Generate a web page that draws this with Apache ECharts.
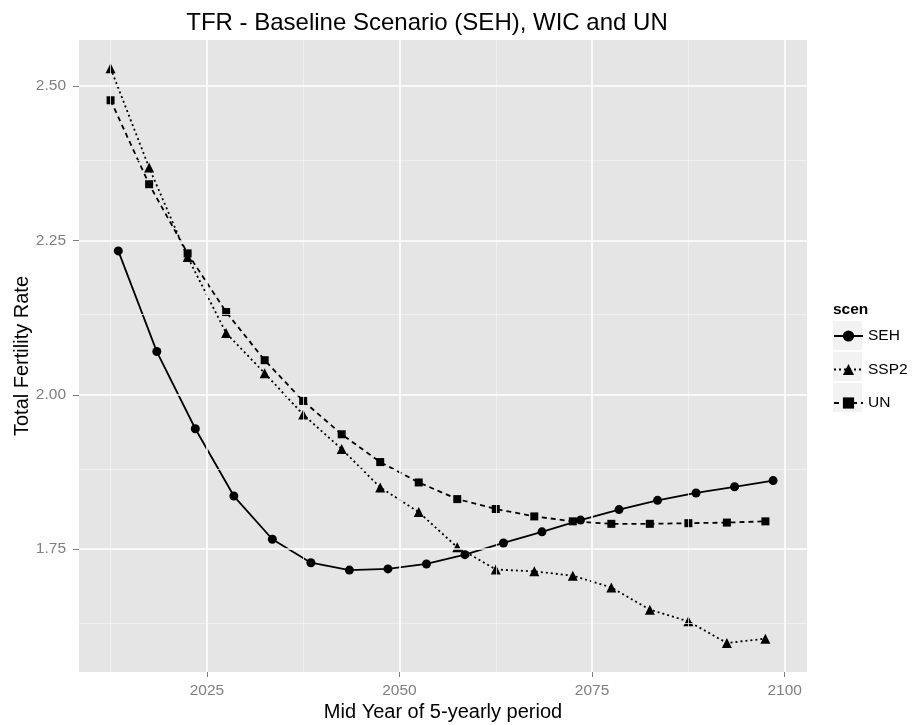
<!DOCTYPE html>
<html>
<head>
<meta charset="utf-8">
<script src="https://cdn.jsdelivr.net/npm/echarts@6/dist/echarts.min.js"></script>
<style>
  html, body { margin: 0; padding: 0; background: #fff; }
  #chart { width: 912px; height: 725px; }
</style>
</head>
<body>
<div id="chart"></div>
<script>
// TFR 数据
var sehYears = [2013.5, 2018.5, 2023.5, 2028.5, 2033.5, 2038.5, 2043.5, 2048.5, 2053.5,
                2058.5, 2063.5, 2068.5, 2073.5, 2078.5, 2083.5, 2088.5, 2093.5, 2098.5];
var wicYears = [2012.5, 2017.5, 2022.5, 2027.5, 2032.5, 2037.5, 2042.5, 2047.5, 2052.5,
                2057.5, 2062.5, 2067.5, 2072.5, 2077.5, 2082.5, 2087.5, 2092.5, 2097.5];
var sehValues = [2.233, 2.070, 1.945, 1.836, 1.766, 1.728, 1.716, 1.718, 1.726,
                 1.741, 1.760, 1.778, 1.797, 1.814, 1.829, 1.841, 1.851, 1.861];
var ssp2Values = [2.529, 2.368, 2.223, 2.100, 2.035, 1.968, 1.912, 1.850, 1.810,
                  1.753, 1.717, 1.714, 1.707, 1.688, 1.652, 1.633, 1.598, 1.605];
var unValues = [2.477, 2.341, 2.229, 2.134, 2.056, 1.990, 1.936, 1.891, 1.858,
                1.831, 1.815, 1.803, 1.795, 1.791, 1.791, 1.792, 1.793, 1.795];

var xTicks = [2025, 2050, 2075, 2100];
var xMinor = [2012.5, 2037.5, 2062.5, 2087.5];
var yTicks = [1.75, 2.00, 2.25, 2.50];
var yMinor = [1.625, 1.875, 2.125, 2.375];

function pairs(xs, ys){
    var out = [];
    for (var i = 0; i < xs.length; i ++)
        out.push([xs[i], ys[i]]);
    return out;
}

function gridLines(xs, ys, w){
    var res = [];
    xs.forEach(function(v){ res.push({xAxis: v, lineStyle: {width: w}}); });
    ys.forEach(function(v){ res.push({yAxis: v, lineStyle: {width: w}}); });
    return res;
}

var tickLabel = {color: '#7f7f7f', fontSize: 15.5, fontFamily: 'Liberation Sans'};

var option = {
    animation: false,
    backgroundColor: '#fff',
    title: [
        {
            text: 'TFR - Baseline Scenario (SEH), WIC and UN',
            left: 422, top: 6, textAlign: 'center',
            textStyle: {fontFamily: 'Liberation Sans', fontSize: 24, fontWeight: 'normal', color: '#000'}
        },
        {
            text: 'scen', left: 828, top: 297, padding: 5,
            textStyle: {fontFamily: 'Liberation Sans', fontSize: 15.5, fontWeight: 'bold', color: '#000'}
        }
    ],
    grid: {
        left: 79, right: 105, top: 40, bottom: 53,
        outerBoundsMode: 'none', containLabel: false,
        show: true, backgroundColor: '#e5e5e5', borderWidth: 0
    },
    xAxis: {
        type: 'value',
        min: 2008.4, max: 2102.9,
        name: 'Mid Year of 5-yearly period',
        nameLocation: 'middle', nameGap: 30, nameMoveOverlap: false,
        nameTextStyle: {fontFamily: 'Liberation Sans', fontSize: 20, color: '#000'},
        axisLine: {show: false},
        splitLine: {show: false},
        axisTick: {show: true, customValues: xTicks, length: 5, lineStyle: {color: '#7f7f7f'}},
        axisLabel: Object.assign({
            customValues: xTicks, margin: 11,
            formatter: function(v){ return String(v); }
        }, tickLabel)
    },
    yAxis: {
        type: 'value',
        min: 1.551, max: 2.5746,
        name: 'Total Fertility Rate',
        nameLocation: 'middle', nameGap: 47, nameMoveOverlap: false,
        nameTextStyle: {fontFamily: 'Liberation Sans', fontSize: 20, color: '#000'},
        axisLine: {show: false},
        splitLine: {show: false},
        axisTick: {show: true, customValues: yTicks, length: 6, lineStyle: {color: '#7f7f7f'}},
        axisLabel: Object.assign({
            customValues: yTicks, margin: 13,
            formatter: function(v){ return v.toFixed(2); }
        }, tickLabel)
    },
    legend: {
        data: ['SEH', 'SSP2', 'UN'],
        orient: 'vertical',
        left: 833, top: 328, padding: 0,
        itemWidth: 29, itemHeight: 14, itemGap: 17.5,
        textStyle: {fontFamily: 'Liberation Sans', fontSize: 15.5, lineHeight: 14, color: '#000'}
    },
    graphic: [
        {type: 'rect', shape: {x: 833, y: 321, width: 29, height: 29}, style: {fill: '#f2f2f2'}, z: -1},
        {type: 'rect', shape: {x: 833, y: 352, width: 29, height: 29}, style: {fill: '#f2f2f2'}, z: -1},
        {type: 'rect', shape: {x: 833, y: 383, width: 29, height: 29}, style: {fill: '#f2f2f2'}, z: -1}
    ],
    series: [
        {
            // 网格线
            type: 'line', data: [], silent: true,
            markLine: {
                silent: true, symbol: 'none', label: {show: false},
                lineStyle: {color: '#f2f2f2', type: 'solid'},
                data: gridLines(xMinor, yMinor, 0.8)
            },
            z: 1
        },
        {
            type: 'line', data: [], silent: true,
            markLine: {
                silent: true, symbol: 'none', label: {show: false},
                lineStyle: {color: '#ffffff', type: 'solid'},
                data: gridLines(xTicks, yTicks, 1.6)
            },
            z: 1
        },
        {
            name: 'SEH', type: 'line', data: pairs(sehYears, sehValues),
            symbol: 'circle', symbolSize: 9,
            lineStyle: {color: '#000', width: 1.8, type: 'solid'},
            itemStyle: {color: '#000'}, z: 3
        },
        {
            name: 'SSP2', type: 'line', data: pairs(wicYears, ssp2Values),
            symbol: 'triangle', symbolSize: 10,
            lineStyle: {color: '#000', width: 1.8, type: [2, 3]},
            itemStyle: {color: '#000'}, z: 3
        },
        {
            name: 'UN', type: 'line', data: pairs(wicYears, unValues),
            symbol: 'rect', symbolSize: 8,
            lineStyle: {color: '#000', width: 1.8, type: [5, 4]},
            itemStyle: {color: '#000'}, z: 3
        }
    ]
};

var chart = echarts.init(document.getElementById('chart'));
chart.setOption(option);
</script>
</body>
</html>
